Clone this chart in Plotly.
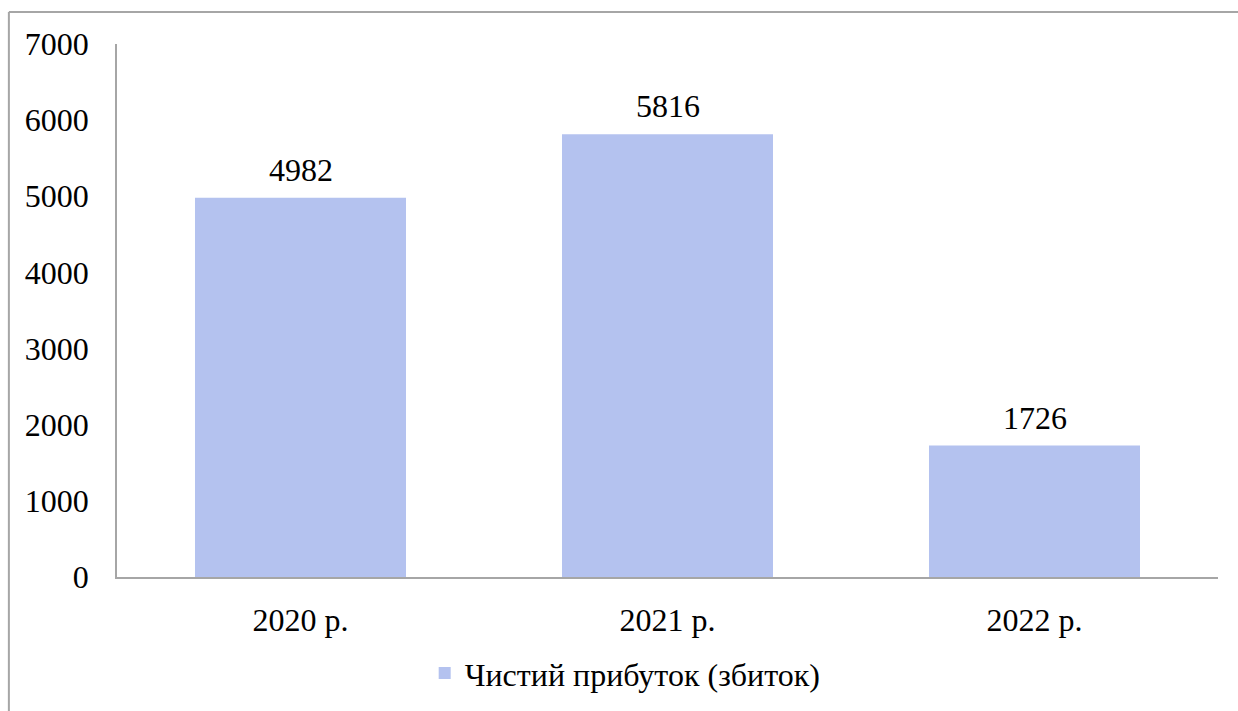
import plotly.graph_objects as go

categories = ["2020 р.", "2021 р.", "2022 р."]
values = [4982, 5816, 1726]
series_name = "Чистий прибуток (збиток)"
y_ticks = [0, 1000, 2000, 3000, 4000, 5000, 6000, 7000]

FONT = "'Times New Roman', 'Liberation Serif', 'DejaVu Serif', serif"
AXIS_COLOR = "#A6A6A6"
FS = 32

fig = go.Figure()
fig.add_trace(go.Bar(
    x=categories, y=values, name=series_name,
    marker=dict(color="#B4C2EF", line=dict(width=0)),
    width=0.575,
    showlegend=True,
))

for c, v in zip(categories, values):
    fig.add_annotation(x=c, y=v, text=str(v), showarrow=False,
                       yanchor="bottom", yshift=8,
                       font=dict(family=FONT, size=FS, color="#000000"))

# outer frame (top and left edges visible)
fig.add_shape(type="line", xref="paper", yref="paper",
              x0=-0.0982, x1=1.1, y0=1.0601, y1=1.0601,
              line=dict(color=AXIS_COLOR, width=2))
fig.add_shape(type="line", xref="paper", yref="paper",
              x0=-0.0982, x1=-0.0982, y0=1.0601, y1=-0.3,
              line=dict(color=AXIS_COLOR, width=2))

fig.update_layout(
    width=1238, height=711,
    margin=dict(l=117, r=20, t=44, b=134, autoexpand=False),
    paper_bgcolor="white", plot_bgcolor="white",
    font=dict(family=FONT, size=FS, color="#000000"),
    bargap=0.425,
    legend=dict(orientation="h", xref="container", yref="container",
                x=0.505, xanchor="center", y=0.053, yanchor="middle",
                font=dict(family=FONT, size=FS), itemwidth=30, bgcolor="rgba(0,0,0,0)"),
    xaxis=dict(showline=True, linecolor=AXIS_COLOR, linewidth=2, showgrid=False,
               automargin=False,
               ticks="", ticklabelstandoff=14, tickfont=dict(family=FONT, size=FS)),
    yaxis=dict(range=[0, 7000], tickvals=y_ticks, showline=True, linecolor=AXIS_COLOR,
               linewidth=1.5, showgrid=False, zeroline=False, ticks="", automargin=False,
               ticklabelstandoff=20, tickfont=dict(family=FONT, size=FS)),
)

fig.write_html("out.html", config={"displayModeBar": False},
               post_script="document.body.style.margin='0';document.body.style.overflow='hidden';")
